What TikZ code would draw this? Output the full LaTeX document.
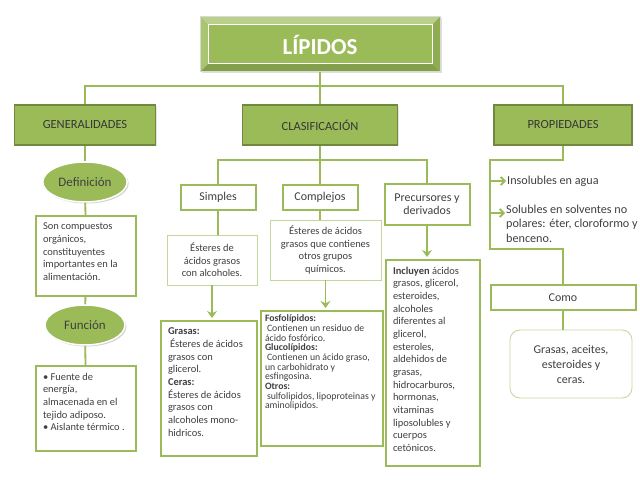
\documentclass[tikz,border=0pt]{standalone}
\usepackage{fontspec}
\setmainfont{Carlito}
\usetikzlibrary{positioning,shapes.geometric,shadows,arrows.meta,calc}
\definecolor{gfill}{HTML}{9BBB59}
\definecolor{gdark}{HTML}{71893F}
\definecolor{gpale}{HTML}{C3D69B}
\definecolor{gtext}{HTML}{404040}
\newcommand{\boxtxt}[3]{\parbox[c][#2][t]{#1}{\raggedright #3}}

\begin{document}
\begin{tikzpicture}[x=1bp,y=-1bp,
  lipbox/.style={minimum width=240bp,minimum height=55bp,fill=gfill,draw=black!15,line width=1bp,
    text=white,font=\fontsize{23}{26}\selectfont\bfseries,
    drop shadow={shadow xshift=1.5bp,shadow yshift=-1.5bp,opacity=.25},
    path picture={
      \fill[gfill!70!white] (path picture bounding box.north west) -- (path picture bounding box.north east)
        -- ++(-8bp,-8bp) -- ([shift={(8bp,-8bp)}]path picture bounding box.north west) -- cycle;
      \fill[gfill!85!black] (path picture bounding box.south west) -- (path picture bounding box.south east)
        -- ++(-8bp,8bp) -- ([shift={(8bp,8bp)}]path picture bounding box.south west) -- cycle;
      \fill[gfill!85!white] (path picture bounding box.north west) -- (path picture bounding box.south west)
        -- ++(8bp,8bp) -- ([shift={(8bp,-8bp)}]path picture bounding box.north west) -- cycle;
      \fill[gfill!92!black] (path picture bounding box.north east) -- (path picture bounding box.south east)
        -- ++(-8bp,8bp) -- ([shift={(-8bp,-8bp)}]path picture bounding box.north east) -- cycle;
      \draw[white,line width=1bp] ([shift={(8bp,-8bp)}]path picture bounding box.north west)
        rectangle ([shift={(-8bp,8bp)}]path picture bounding box.south east);
    }},
  topbox/.style={draw=gdark,line width=1.2bp,fill=gfill,minimum width=#1,minimum height=40bp,
    text=gtext!85!black,font=\fontsize{12.5}{14}\selectfont,
    drop shadow={shadow xshift=1bp,shadow yshift=-1bp,opacity=.2}},
  headbox/.style={draw=gfill,line width=2bp,fill=white,text=gtext,align=center,
    font=\fontsize{12}{13.3}\selectfont},
  palebox/.style={draw=gpale,line width=.8bp,fill=white,text=gtext,align=center,
    font=\fontsize{10.5}{12.6}\selectfont},
  infobox/.style={draw=gfill,line width=2bp,fill=white,text=gtext,anchor=north west,inner sep=7bp,
    font=\fontsize{10.5}{12.7}\selectfont},
  oval/.style={ellipse,fill=gfill,draw=white,line width=1.5bp,minimum width=80bp,minimum height=40bp,
    text=gtext,font=\fontsize{13}{15}\selectfont,
    drop shadow={shadow xshift=1.5bp,shadow yshift=-1.5bp,opacity=.35}},
  plain/.style={text=gtext,inner sep=1bp,font=\fontsize{12.2}{14.3}\selectfont},
  link/.style={draw=gfill,line width=1.8bp},
  arr/.style={link,-{Stealth[length=7bp,width=10bp]},shorten >=2bp},
  pointer/.style={link,-{Straight Barb[length=4bp,width=8bp]}}]
\fill[white] (0,0) rectangle (640,480);
\useasboundingbox (0,0) rectangle (640,480);

% title and first level
\node[lipbox] (title) at (320,44.5) {LÍPIDOS};
\node[topbox=141bp] (gen) at (85,125) {GENERALIDADES};
\node[topbox=155bp] (clas) at (320,125) {CLASIFICACIÓN};
\node[topbox=138bp] (prop) at (563,125) {PROPIEDADES};
\coordinate (bus1) at (320,86);
\draw[link] (title.south) -- (bus1);
\draw[link] (gen.north) |- (bus1) -| (prop.north);
\draw[link] (bus1) -- (clas.north);

% generalidades
\node[oval] (defov) at (85,182) {Definición};
\node[infobox] (deftxt) at (35,215) {\boxtxt{86bp}{66bp}{Son compuestos\\orgánicos,\\constituyentes\\importantes en la\\alimentación.}};
\node[oval] (funov) at (85,325) {Función};
\node[infobox] (funtxt) at (35,365) {\boxtxt{86bp}{71bp}{• Fuente de\\energía,\\almacenada en el\\tejido adiposo.\\• Aislante térmico .}};
\draw[link] (gen) -- (defov);
\draw[link] (defov) -- (deftxt);
\draw[link] (deftxt) -- (funov);
\draw[link] (funov) -- (funtxt);

% clasificacion
\node[headbox,minimum width=75bp,minimum height=25bp] (simp) at (218,197.5) {Simples};
\node[headbox,minimum width=75bp,minimum height=25bp] (comp) at (320,197.5) {Complejos};
\node[headbox,minimum width=85bp,minimum height=41bp,inner sep=1bp] (prec) at (427,204.5) {Precursores y\\derivados};
\coordinate (bus2) at (320,160);
\draw[link] (clas.south) -- (bus2);
\draw[link] (simp.north) |- (bus2) -| (prec.north);
\draw[link] (bus2) -- (comp.north);

\node[palebox,minimum width=90bp,minimum height=50bp] (simtxt) at (212,260) {Ésteres de\\ácidos grasos\\con alcoholes.};
\node[palebox,minimum width=111bp,minimum height=60bp] (comtxt) at (325.5,250) {Ésteres de ácidos\\grasos que contienes\\otros grupos\\químicos.};
\node[infobox] (grtxt) at (160,320) {\boxtxt{82bp}{121bp}{\textbf{Grasas:}\\\hspace*{2bp}Ésteres de ácidos\\grasos con\\glicerol.\\\textbf{Ceras:}\\Ésteres de ácidos\\grasos con\\alcoholes mono-\\hidricos.}};
\node[infobox,inner sep=4bp,font=\fontsize{9.8}{9.7}\selectfont] (fostxt) at (260,310) {\boxtxt{114bp}{127bp}{\textbf{Fosfolípidos:}\\\hspace*{2bp}Contienen un residuo de\\ácido fosfórico.\\\textbf{Glucolípidos:}\\\hspace*{2bp}Contienen un ácido graso,\\un carbohidrato y\\esfingosina.\\\textbf{Otros:}\\\hspace*{2bp}sulfolipidos, lipoproteinas y\\aminolipidos.}};
\node[infobox] (inctxt) at (385,259) {\boxtxt{80bp}{192bp}{\textbf{Incluyen} ácidos\\grasos, glicerol,\\esteroides,\\alcoholes\\diferentes al\\glicerol,\\esteroles,\\aldehidos de\\grasas,\\hidrocarburos,\\hormonas,\\vitaminas\\liposolubles y\\cuerpos\\cetónicos.}};
\draw[link] (simp.south) -- (simp.south |- simtxt.north);
\draw[arr] (simtxt.south) -- (simtxt.south |- grtxt.north);
\draw[link] (comp.south) -- (comp.south |- comtxt.north);
\draw[arr] (comtxt.south) -- (comtxt.south |- fostxt.north);
\draw[arr] (prec.south) -- (prec.south |- inctxt.north);

% propiedades
\node[plain,anchor=west] (insol) at (506,181) {Insolubles en agua};
\node[plain,anchor=north west,align=left] (solub) at (505,204) {Solubles en solventes no\\polares: éter, cloroformo y\\benceno.};
\coordinate (soltip) at ($(solub.north west)+(0,9)$);
\node[headbox,minimum width=145bp,minimum height=25bp] (como) at (563,297.5) {Como};
\node[palebox,rounded corners=10bp,minimum width=122bp,minimum height=68bp,
  font=\fontsize{12}{15}\selectfont] (grac) at (571,364) {Grasas, aceites,\\esteroides y\\ceras.};
\coordinate (pl1) at (490,160);
\coordinate (pl2) at (490,249);
\draw[link] (prop.south) |- (pl1) -- (pl2) -| (como.north);
\draw[pointer] (pl1 |- insol.west) -- (insol.west);
\draw[pointer] (pl1 |- soltip) -- (soltip);
\draw[link] (como.south) -- (como.south |- grac.north);
\end{tikzpicture}
\end{document}
